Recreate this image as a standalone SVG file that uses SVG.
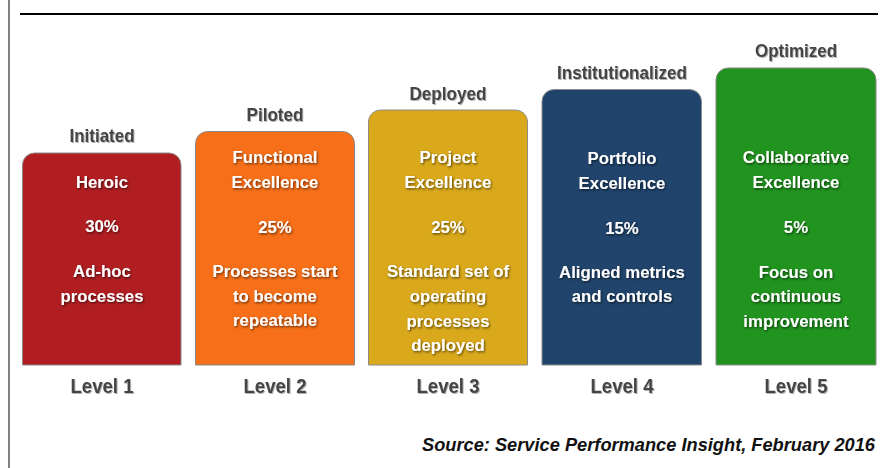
<svg xmlns="http://www.w3.org/2000/svg" width="883" height="468" viewBox="0 0 883 468">
  <defs>
    <filter id="ts" x="-10%" y="-30%" width="120%" height="160%">
      <feDropShadow dx="1" dy="1.3" stdDeviation="0.9" flood-color="#000" flood-opacity="0.6"/>
    </filter>
    <filter id="gs" x="-10%" y="-30%" width="120%" height="160%">
      <feDropShadow dx="1" dy="1" stdDeviation="0.7" flood-color="#000" flood-opacity="0.3"/>
    </filter>
  </defs>
  <style>
    .box { stroke: #8a8a8a; stroke-width: 1; }
    .in { font-family: "Liberation Sans", Arial, sans-serif; font-weight: bold; font-size: 16.8px; fill: #ffffff; text-anchor: middle; filter: url(#ts); }
    .stage { font-family: "Liberation Sans", Arial, sans-serif; font-weight: bold; font-size: 18.5px; fill: #444444; text-anchor: middle; filter: url(#gs); }
    .lvl { font-family: "Liberation Sans", Arial, sans-serif; font-weight: bold; font-size: 21px; fill: #444444; text-anchor: middle; filter: url(#gs); }
    .src { font-family: "Liberation Sans", Arial, sans-serif; font-weight: bold; font-style: italic; font-size: 18.5px; fill: #111111; text-anchor: start; }
  </style>
  <rect x="0" y="0" width="883" height="468" fill="#ffffff"/>
  <line x1="9" y1="0" x2="9" y2="468" stroke="#808080" stroke-width="2"/>
  <line x1="20" y1="14" x2="878" y2="14" stroke="#000000" stroke-width="2"/>

  <g id="level1">
    <path class="box" d="M22.5,365 V165 a12,12 0 0 1 12,-12 H169 a12,12 0 0 1 12,12 V365 Z" fill="#B11E22"/>
    <text class="stage" x="102" y="142" textLength="65" lengthAdjust="spacingAndGlyphs">Initiated</text>
    <text class="in" x="102" y="188">Heroic</text>
    <text class="in" x="102" y="232">30%</text>
    <text class="in" x="102" y="277">Ad-hoc</text>
    <text class="in" x="102" y="302">processes</text>
    <text class="lvl" x="102" y="393" textLength="63" lengthAdjust="spacingAndGlyphs">Level 1</text>
  </g>

  <g id="level2">
    <path class="box" d="M195.5,365 V143.5 a12,12 0 0 1 12,-12 H342.5 a12,12 0 0 1 12,12 V365 Z" fill="#F77019"/>
    <text class="stage" x="275" y="121" textLength="57" lengthAdjust="spacingAndGlyphs">Piloted</text>
    <text class="in" x="275" y="163">Functional</text>
    <text class="in" x="275" y="188">Excellence</text>
    <text class="in" x="275" y="233">25%</text>
    <text class="in" x="275" y="277">Processes start</text>
    <text class="in" x="275" y="302">to become</text>
    <text class="in" x="275" y="326">repeatable</text>
    <text class="lvl" x="275" y="393" textLength="63" lengthAdjust="spacingAndGlyphs">Level 2</text>
  </g>

  <g id="level3">
    <path class="box" d="M368.5,365 V122 a12,12 0 0 1 12,-12 H515.5 a12,12 0 0 1 12,12 V365 Z" fill="#D9A81B"/>
    <text class="stage" x="448" y="100" textLength="77" lengthAdjust="spacingAndGlyphs">Deployed</text>
    <text class="in" x="448" y="163">Project</text>
    <text class="in" x="448" y="188">Excellence</text>
    <text class="in" x="448" y="233">25%</text>
    <text class="in" x="448" y="277">Standard set of</text>
    <text class="in" x="448" y="302">operating</text>
    <text class="in" x="448" y="327">processes</text>
    <text class="in" x="448" y="351">deployed</text>
    <text class="lvl" x="448" y="393" textLength="63" lengthAdjust="spacingAndGlyphs">Level 3</text>
  </g>

  <g id="level4">
    <path class="box" d="M542,365 V101.5 a12,12 0 0 1 12,-12 H689.5 a12,12 0 0 1 12,12 V365 Z" fill="#21446C"/>
    <text class="stage" x="622" y="79" textLength="130" lengthAdjust="spacingAndGlyphs">Institutionalized</text>
    <text class="in" x="622" y="164">Portfolio</text>
    <text class="in" x="622" y="189">Excellence</text>
    <text class="in" x="622" y="234">15%</text>
    <text class="in" x="622" y="278">Aligned metrics</text>
    <text class="in" x="622" y="302">and controls</text>
    <text class="lvl" x="622" y="393" textLength="63" lengthAdjust="spacingAndGlyphs">Level 4</text>
  </g>

  <g id="level5">
    <path class="box" d="M716,365 V80 a12,12 0 0 1 12,-12 H864 a12,12 0 0 1 12,12 V365 Z" fill="#21931F"/>
    <text class="stage" x="796" y="57" textLength="82" lengthAdjust="spacingAndGlyphs">Optimized</text>
    <text class="in" x="796" y="163">Collaborative</text>
    <text class="in" x="796" y="188">Excellence</text>
    <text class="in" x="796" y="233">5%</text>
    <text class="in" x="796" y="278">Focus on</text>
    <text class="in" x="796" y="302">continuous</text>
    <text class="in" x="796" y="327">improvement</text>
    <text class="lvl" x="796" y="393" textLength="63" lengthAdjust="spacingAndGlyphs">Level 5</text>
  </g>

  <g id="connectors"></g>

  <text class="src" x="422" y="451" textLength="453" lengthAdjust="spacingAndGlyphs">Source: Service Performance Insight, February 2016</text>
</svg>
